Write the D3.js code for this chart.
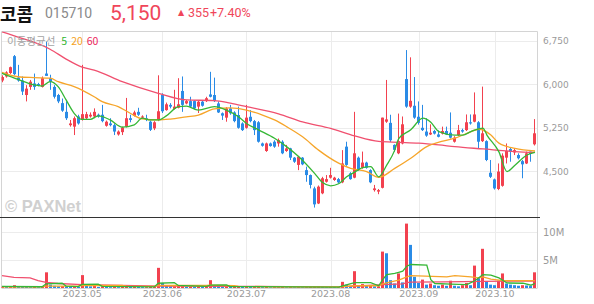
<!DOCTYPE html>
<html>
<head>
<meta charset="utf-8">
<script src="https://cdn.jsdelivr.net/npm/d3@7"></script>
<style>
  body { margin: 0; background: #fff; }
  svg { display: block; }
</style>
</head>
<body>
<svg id="chart" width="594" height="304"></svg>
<script>
// ---------------- data ----------------
let opens = [6060,6130,6190,6480,6110,6060,5810,5950,6010,6000,
  5950,6180,6100,5950,5810,5670,5520,5290,5265,5440,
  5380,5410,5440,5440,5470,5470,5280,5320,5290,5130,
  5170,5265,5410,5450,5520,5420,5410,5350,5235,5380,
  5810,5550,5640,5570,5590,5880,5665,5705,5705,5610,
  5695,5705,5820,5810,5665,5495,5420,5580,5510,5465,
  5320,5245,5435,5360,5340,4975,4845,4975,5005,4975,
  5005,4845,4890,4730,4605,4730,4515,4430,4200,3940,
  4115,4315,4385,4345,4360,4305,4920,4460,4385,4730,
  4555,4645,4515,4170,4145,4210,5350,5330,4950,4805,
  4975,6085,5610,5625,5435,5245,5180,5130,5190,5130,
  5145,5190,5160,5005,5120,5205,5205,5340,5350,5340,
  5015,5015,4470,4355,4190,4245,4730,4880,4820,4775,
  4670,4630,4835,4960];
let highs = [6150,6220,6300,6500,6330,6130,5980,6070,6180,6020,
  6130,6730,6160,5980,5830,5750,5700,5380,5440,5470,
  6330,5520,5510,5580,5490,5640,5370,5410,5320,5200,
  5265,5760,5470,5540,5590,5460,5470,5370,5360,6150,
  5840,5680,5670,5900,6100,6130,5725,5780,5720,5710,
  5720,5780,6210,6110,5700,5510,5600,5640,5530,5610,
  5340,5640,5550,5380,5360,4990,4990,4990,5030,5060,
  5030,4950,4900,4740,4760,4740,4575,4440,4230,4250,
  4400,4430,4555,4400,4380,4860,5005,4480,5520,4750,
  4835,4660,4530,4260,4190,5420,6070,5470,4960,5490,
  5440,6585,6460,6120,5700,5640,5410,5305,5210,5200,
  5265,5265,5510,5100,5295,5230,5475,5475,5855,5360,
  5955,5030,4690,4370,4630,4805,4975,4900,4890,4805,
  4690,4835,4835,5395];
let lows = [6030,6110,6170,6150,6040,5810,5700,5900,5900,5960,
  5940,6140,5900,5750,5670,5520,5380,5265,5120,5300,
  5370,5380,5420,5410,5420,5340,5265,5270,5120,5110,
  5120,5250,5340,5440,5450,5400,5360,5190,5205,5360,
  5500,5540,5580,5560,5580,5520,5650,5600,5560,5500,
  5610,5690,5770,5690,5500,5380,5350,5470,5340,5230,
  5190,5230,5340,5120,4990,4920,4830,4920,4900,4920,
  4790,4830,4690,4640,4515,4600,4315,4200,3870,3930,
  4100,4300,4370,4330,4290,4290,4590,4350,4375,4500,
  4540,4540,4290,4145,4100,4200,5330,5000,4830,4790,
  4960,5590,5590,5400,5300,5190,5090,5120,5130,5080,
  5130,5120,5060,4990,5100,5160,5190,5300,5340,4890,
  5000,4670,4380,4180,4170,4230,4630,4660,4775,4700,
  4375,4620,4660,4940];
let closes = [6120,6200,6290,6170,6060,5870,5920,6040,5950,5980,
  6100,6140,6040,5780,5700,5540,5410,5320,5410,5320,
  5480,5480,5470,5520,5440,5360,5350,5290,5180,5180,
  5250,5410,5380,5510,5470,5440,5380,5210,5340,5530,
  5530,5650,5610,5610,5650,5640,5705,5610,5580,5695,
  5625,5755,5780,5705,5510,5455,5580,5495,5360,5245,
  5205,5420,5360,5205,5005,4935,4975,4930,4920,5035,
  4805,4890,4730,4660,4745,4615,4430,4260,3925,4230,
  4375,4360,4430,4385,4305,4630,4605,4360,4805,4515,
  4645,4555,4305,4200,4170,5420,5390,5030,4865,5015,
  5305,5610,5710,5420,5330,5205,5110,5160,5145,5090,
  5190,5130,5075,5075,5205,5180,5340,5320,5475,5005,
  5150,4690,4400,4200,4490,4765,4845,4835,4860,4720,
  4615,4805,4795,5150];
// volume in millions of shares
let volumes = [0.25,0.2,0.3,0.5,0.3,0.25,0.2,0.15,0.2,0.15,
  0.2,2.8,0.6,0.4,0.3,0.35,0.3,0.2,0.3,0.2,
  2.3,0.5,0.3,0.35,0.2,0.3,0.2,0.15,0.2,0.15,
  0.2,0.4,0.2,0.25,0.2,0.15,0.15,0.2,0.2,3.6,
  0.9,0.4,0.3,0.3,0.45,0.5,0.2,0.25,0.2,0.25,
  0.2,0.3,1.4,0.5,0.3,0.25,0.3,0.2,0.2,0.25,
  0.2,0.3,0.2,0.2,0.25,0.15,0.2,0.12,0.15,0.15,
  0.2,0.12,0.15,0.12,0.15,0.12,0.15,0.2,0.3,0.35,
  0.25,0.15,0.2,0.15,0.15,1.1,0.6,0.3,3.0,0.5,
  0.7,0.4,0.5,0.3,0.3,6.5,6.2,1.4,0.8,2.6,
  1.0,11.5,7.7,2.0,0.9,1.5,0.6,0.8,0.5,0.4,
  0.6,0.4,1.3,0.4,0.3,0.5,0.9,0.5,4.0,1.8,
  7.0,1.2,0.6,0.5,1.3,2.6,0.8,0.6,0.5,0.4,
  0.5,0.45,0.35,2.8];

// moving average lines, [day index, value]
let ma5 = [[0,6185],[4,6080],[8,5985],[10,5965],[12,6040],[14,5955],[16,5725],[18,5495],[20,5390],[22,5390],
  [24,5450],[27,5380],[30,5255],[33,5295],[35,5410],[37,5380],[39,5380],[41,5450],[44,5610],[46,5620],
  [49,5550],[53,5610],[56,5550],[59,5435],[61,5320],[64,5210],[68,5065],[71,4920],[74,4750],[78,4460],
  [80,4300],[82,4245],[84,4280],[86,4400],[88,4480],[90,4560],[92,4575],[94,4400],[96,4600],[98,4860],
  [99,5060],[102,5210],[105,5410],[107,5340],[109,5180],[113,5120],[115,5120],[117,5180],[120,5240],[121,5120],
  [124,4830],[126,4490],[128,4600],[131,4775],[133,4820]];
let ma20 = [[0,6200],[4,6125],[8,6110],[12,6100],[14,6040],[18,5955],[23,5780],[25,5695],[29,5610],[32,5495],
  [35,5400],[39,5380],[42,5395],[46,5435],[49,5465],[53,5570],[57,5590],[61,5550],[65,5465],[68,5380],
  [71,5265],[75,5090],[79,4860],[84,4635],[87,4545],[91,4490],[94,4390],[98,4545],[102,4720],[106,4920],
  [110,5015],[113,5065],[116,5150],[119,5220],[122,5120],[124,4980],[128,4890],[133,4845]];
let ma60 = [[0,6900],[4,6810],[12,6600],[16,6430],[20,6290],[23,6240],[30,6040],[39,5840],[46,5725],[53,5715],
  [57,5670],[61,5610],[69,5485],[75,5345],[82,5235],[88,5105],[94,5010],[99,4995],[104,4980],[109,4950],
  [113,4920],[120,4880],[128,4835],[133,4820]];

let volMa5 = [[0,0.3],[10,0.22],[11,0.75],[15,0.85],[16,0.35],[19,0.25],[20,0.65],[24,0.7],[25,0.3],[38,0.2],
  [39,0.85],[43,0.95],[44,0.45],[51,0.3],[52,0.5],[56,0.55],[57,0.25],[84,0.17],[85,0.4],[88,0.95],
  [92,0.95],[94,0.4],[95,1.5],[96,2.4],[98,2.6],[99,2.8],[100,3.0],[101,3.9],[102,4.2],[106,4.1],
  [107,1.5],[108,0.8],[112,0.7],[116,0.6],[118,1.3],[120,2.4],[122,2.3],[124,1.8],[126,0.9],[130,0.85],
  [132,0.5],[133,0.8]];
let volMa20 = [[0,0.2],[10,0.2],[11,0.33],[19,0.35],[20,0.45],[30,0.45],[31,0.35],[38,0.3],[39,0.45],[51,0.45],
  [52,0.5],[58,0.4],[59,0.3],[70,0.2],[84,0.2],[85,0.25],[88,0.4],[94,0.4],[95,0.75],[97,1.1],
  [99,1.4],[101,2.0],[102,2.2],[111,2.0],[113,2.2],[117,2.0],[119,1.8],[120,2.0],[122,1.6],[125,1.3],
  [133,1.3]];
let volMa60 = [[0,2.2],[3,1.9],[7,1.8],[9,1.3],[11,1.0],[14,0.8],[20,0.6],[30,0.45],[40,0.35],[60,0.3],
  [80,0.2],[85,0.25],[90,0.4],[95,0.6],[100,0.75],[101,0.95],[102,1.05],[110,1.1],[120,1.2],[133,1.25]];

let priceTicks = [4500, 5250, 6000, 6750];
let volTicks = [[5, '5M'], [10, '10M']];
let monthTicks = [[20,'2023.05'],[40,'2023.06'],[61,'2023.07'],[82,'2023.08'],[104,'2023.09'],[123,'2023.10']];

// ---------------- colors ----------------
let upColor = '#f2414f';
let downColor = '#2a8be6';
let ma5Color = '#35b735';
let ma20Color = '#f6a52a';
let ma60Color = '#f0506f';
let gridColor = '#ececec';
let axisText = '#9a9a9a';

// ---------------- scales ----------------
let svg = d3.select('#chart');
let x = d3.scaleLinear().domain([-0.5, 133.5]).range([0, 537]);
let y = d3.scaleLinear().domain([4500, 6750]).range([171, 40.5]);
let yv = d3.scaleLinear().domain([0, 10]).range([288, 232]);

let plotLeft = 1.5, plotRight = 537.5, plotTop = 31.5, sepY = 217, volBottom = 288;

svg.append('defs').call(d => {
  d.append('clipPath').attr('id', 'clipMain').append('rect')
    .attr('x', plotLeft).attr('y', plotTop).attr('width', plotRight - plotLeft).attr('height', sepY - plotTop);
  d.append('clipPath').attr('id', 'clipVol').append('rect')
    .attr('x', plotLeft).attr('y', sepY).attr('width', plotRight - plotLeft).attr('height', volBottom - sepY);
});

// ---------------- grid ----------------
let grid = svg.append('g');
grid.selectAll('.hg').data(priceTicks).enter().append('line')
  .attr('x1', plotLeft).attr('x2', plotRight)
  .attr('y1', d => Math.round(y(d)) + 0.5).attr('y2', d => Math.round(y(d)) + 0.5)
  .attr('stroke', gridColor);
grid.selectAll('.vg').data(volTicks).enter().append('line')
  .attr('x1', plotLeft).attr('x2', plotRight)
  .attr('y1', d => Math.round(yv(d[0])) + 0.5).attr('y2', d => Math.round(yv(d[0])) + 0.5)
  .attr('stroke', gridColor);
grid.selectAll('.mg').data(monthTicks).enter().append('line')
  .attr('x1', d => Math.round(x(d[0])) + 0.5).attr('x2', d => Math.round(x(d[0])) + 0.5)
  .attr('y1', plotTop).attr('y2', volBottom)
  .attr('stroke', gridColor);

// frame
svg.append('line').attr('x1', plotLeft).attr('x2', plotRight).attr('y1', plotTop).attr('y2', plotTop).attr('stroke', '#d4d4d4');
svg.append('line').attr('x1', plotLeft).attr('x2', plotLeft).attr('y1', plotTop).attr('y2', volBottom).attr('stroke', '#d4d4d4');
svg.append('line').attr('x1', plotRight).attr('x2', plotRight).attr('y1', plotTop).attr('y2', volBottom).attr('stroke', '#d4d4d4');
svg.append('line').attr('x1', plotLeft).attr('x2', plotRight).attr('y1', volBottom + 0.5).attr('y2', volBottom + 0.5).attr('stroke', '#d4d4d4');

// watermark
svg.append('text').attr('x', 5).attr('y', 212)
  .attr('font-family', '"Liberation Sans", Arial, sans-serif').attr('font-weight', 'bold')
  .attr('font-size', 16.5).attr('fill', '#d0d0d0').text('© PAXNet');

// ---------------- candles ----------------
let days = d3.range(closes.length);
let main = svg.append('g').attr('clip-path', 'url(#clipMain)');
let candleColor = i => closes[i] >= opens[i] ? upColor : downColor;

main.selectAll('.wick').data(days).enter().append('rect')
  .attr('x', i => Math.round(x(i) - 1.5) + 1)
  .attr('width', 1)
  .attr('y', i => y(highs[i]))
  .attr('height', i => y(lows[i]) - y(highs[i]))
  .attr('fill', candleColor);
main.selectAll('.body').data(days).enter().append('rect')
  .attr('x', i => Math.round(x(i) - 1.5))
  .attr('width', 3)
  .attr('y', i => y(Math.max(opens[i], closes[i])))
  .attr('height', i => Math.max(1, Math.abs(y(opens[i]) - y(closes[i]))))
  .attr('fill', candleColor);

let line = d3.line().x(d => x(d[0])).y(d => y(d[1])).curve(d3.curveMonotoneX);
[[ma60, ma60Color], [ma20, ma20Color], [ma5, ma5Color]].forEach(([pts, c]) => {
  main.append('path').datum(pts).attr('d', line)
    .attr('fill', 'none').attr('stroke', c).attr('stroke-width', 1.3);
});

// ---------------- volume ----------------
let vol = svg.append('g').attr('clip-path', 'url(#clipVol)');
vol.selectAll('.vbar').data(days).enter().append('rect')
  .attr('x', i => Math.round(x(i) - 1.5))
  .attr('width', 3)
  .attr('y', i => yv(volumes[i]))
  .attr('height', i => volBottom - yv(volumes[i]))
  .attr('fill', i => (i === 0 || volumes[i] >= volumes[i - 1]) ? upColor : downColor);

let vline = d3.line().x(d => x(d[0])).y(d => yv(d[1]));
[[volMa60, ma60Color], [volMa20, ma20Color], [volMa5, ma5Color]].forEach(([pts, c]) => {
  vol.append('path').datum(pts).attr('d', vline)
    .attr('fill', 'none').attr('stroke', c).attr('stroke-width', 1.3);
});

// separator between panels
svg.append('line').attr('x1', 0).attr('x2', 540).attr('y1', sepY + 0.5).attr('y2', sepY + 0.5)
  .attr('stroke', '#333').attr('stroke-width', 1.2);

// ---------------- axes text ----------------
let fmt = d3.format(',');
svg.selectAll('.py').data(priceTicks).enter().append('text')
  .attr('x', 543).attr('y', d => y(d) + 3.5)
  .attr('font-family', '"DejaVu Sans", Verdana, sans-serif').attr('font-size', 9)
  .attr('fill', axisText).text(d => fmt(d));
svg.selectAll('.vy').data(volTicks).enter().append('text')
  .attr('x', 543).attr('y', d => yv(d[0]) + 3.5)
  .attr('font-family', '"DejaVu Sans", Verdana, sans-serif').attr('font-size', 10)
  .attr('fill', axisText).text(d => d[1]);
svg.selectAll('.mx').data(monthTicks).enter().append('text')
  .attr('x', d => x(d[0])).attr('y', 297)
  .attr('text-anchor', 'middle')
  .attr('font-family', '"DejaVu Sans", Verdana, sans-serif').attr('font-size', 9.5)
  .attr('fill', axisText).text(d => d[1]);

// legend
let legend = svg.append('text').attr('x', 7).attr('y', 45)
  .attr('font-family', '"Noto Sans CJK KR", "Noto Sans", sans-serif').attr('font-size', 10.5);
legend.append('tspan').attr('fill', '#a4a4a4').text('이동평균선');
legend.append('tspan').attr('dx', 6).attr('fill', '#2fb52f').text('5');
legend.append('tspan').attr('dx', 4).attr('fill', '#f5a21e').text('20');
legend.append('tspan').attr('dx', 4).attr('fill', '#ec1f5c').text('60');

// ---------------- header ----------------
let header = svg.append('g');
header.append('text').attr('x', 0).attr('y', 20.5).attr('font-size', 18).attr('font-weight', 'bold')
  .attr('font-family', '"Noto Sans CJK KR", sans-serif')
  .attr('fill', '#111').text('코콤');
header.append('text').attr('x', 45).attr('y', 18).attr('font-size', 14)
  .attr('font-family', 'Roboto, "Noto Sans", sans-serif')
  .attr('fill', '#8a8a8a').text('015710');
header.append('text').attr('x', 110).attr('y', 19.5).attr('font-size', 21)
  .attr('font-family', 'Roboto, "Noto Sans", sans-serif')
  .attr('fill', '#f0465a').text('5,150');
header.append('text').attr('x', 178).attr('y', 15).attr('font-size', 8)
  .attr('font-family', '"DejaVu Sans", sans-serif')
  .attr('fill', '#f0465a').text('▲');
header.append('text').attr('x', 188).attr('y', 17).attr('font-size', 12.5)
  .attr('font-family', 'Roboto, "Noto Sans", sans-serif')
  .attr('fill', '#f0465a').text('355');
header.append('text').attr('x', 210).attr('y', 17).attr('font-size', 12.5)
  .attr('font-family', 'Roboto, "Noto Sans", sans-serif')
  .attr('fill', '#f0465a').text('+7.40%');
</script>
</body>
</html>
